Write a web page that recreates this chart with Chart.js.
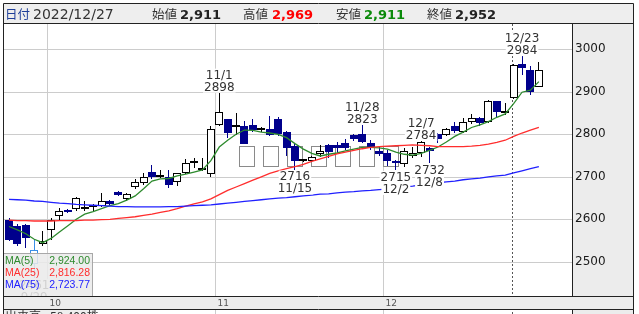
<!DOCTYPE html>
<html lang="ja">
<head>
<meta charset="utf-8">
<title>株価チャート</title>
<script src="https://cdn.jsdelivr.net/npm/chart.js@4.4.1/dist/chart.umd.min.js"></script>
<style>
  html, body { margin: 0; padding: 0; background: #fff; }
  #wrap { position: relative; width: 639px; height: 314px; overflow: hidden; }
  canvas { display: block; }
</style>
</head>
<body>
<div id="wrap"><canvas id="chart" width="639" height="314"></canvas></div>
<script>
// ---------- data ----------
const YEAR = '2022';
const dates = [
  '9/26','9/27','9/28','9/29','9/30',
  '10/3','10/4','10/5','10/6','10/7','10/11','10/12','10/13','10/14','10/17',
  '10/18','10/19','10/20','10/21','10/24','10/25','10/26','10/27','10/28','10/31',
  '11/1','11/2','11/4','11/7','11/8','11/9','11/10','11/11','11/14','11/15',
  '11/16','11/17','11/18','11/21','11/22','11/24','11/25','11/28','11/29','11/30',
  '12/1','12/2','12/5','12/6','12/7','12/8','12/9','12/12','12/13','12/14',
  '12/15','12/16','12/19','12/20','12/21','12/22','12/23','12/26','12/27'
];
const open = [
  2598,2584,2586,2495,2541, 2575,2608,2622,2624,2625,
  2628,2631,2643,2664,2647, 2675,2685,2711,2700,2700,
  2688,2709,2732,2716,2707, 2822,2835,2816,2820,2822,
  2810,2812,2835,2805,2772, 2736,2738,2753,2775,2775,
  2780,2798,2800,2779,2760, 2757,2737,2730,2748,2755,
  2767,2800,2799,2820,2806, 2830,2839,2828,2878,2850,
  2885,2965,2951,2911
];
const high = [
  2602,2590,2590,2553,2573, 2604,2627,2625,2653,2643,
  2636,2661,2646,2667,2663, 2695,2708,2728,2716,2716,
  2710,2741,2744,2744,2820, 2898,2836,2851,2831,2836,
  2818,2843,2840,2808,2777, 2742,2750,2775,2778,2783,
  2788,2800,2823,2787,2771, 2762,2740,2768,2771,2784,
  2770,2802,2815,2830,2838, 2847,2841,2880,2879,2873,
  2965,2984,2961,2969
];
const low = [
  2548,2538,2533,2461,2538, 2551,2598,2614,2620,2620,
  2620,2628,2632,2654,2644, 2671,2680,2694,2697,2673,
  2679,2706,2720,2714,2700, 2820,2791,2798,2776,2806,
  2806,2795,2797,2750,2716, 2734,2735,2747,2744,2755,
  2764,2785,2780,2762,2750, 2725,2715,2722,2744,2747,
  2732,2779,2795,2802,2804, 2825,2820,2826,2840,2845,
  2883,2940,2893,2911
];
const close = [
  2551,2542,2556,2528,2549, 2598,2620,2617,2649,2625,
  2630,2644,2635,2656,2659, 2687,2700,2700,2700,2680,
  2709,2733,2732,2716,2812, 2853,2802,2816,2776,2810,
  2813,2798,2800,2767,2737, 2739,2747,2761,2759,2767,
  2768,2788,2783,2771,2754, 2737,2732,2760,2756,2783,
  2761,2789,2812,2808,2828, 2838,2826,2878,2852,2850,
  2963,2955,2900,2952
];
const ma5 = [
  2583,2575,2566,2553,2545, 2555,2570,2585,2600,2612,
  2618,2625,2632,2637,2645, 2655,2672,2690,2695,2696,
  2702,2706,2711,2716,2738, 2770,2786,2800,2810,2809,
  2805,2803,2800,2792,2778, 2765,2755,2749,2753,2756,
  2761,2765,2769,2769,2768, 2765,2758,2753,2751,2755,
  2762,2770,2782,2795,2805, 2816,2822,2830,2840,2848,
  2872,2899,2904,2924.00
];
const ma25 = [
  2598,2597,2597,2596,2596, 2596,2597,2597,2597,2598,
  2598,2599,2600,2602,2604, 2606,2609,2612,2616,2620,
  2625,2631,2636,2641,2648, 2658,2668,2676,2684,2692,
  2700,2708,2714,2719,2724, 2729,2736,2742,2748,2754,
  2758,2762,2766,2769,2771, 2772,2773,2774,2775,2774,
  2773,2771,2771,2771,2771, 2772,2774,2777,2781,2786,
  2795,2803,2810,2816.28
];
const ma75 = [
  2647,2646,2645,2643,2642, 2640,2638,2637,2635,2634,
  2633,2632,2631,2630,2630, 2629,2629,2629,2629,2630,
  2630,2631,2632,2633,2634, 2636,2638,2640,2642,2644,
  2646,2648,2650,2651,2653, 2655,2657,2659,2660,2662,
  2664,2665,2667,2668,2670, 2671,2673,2676,2678,2681,
  2683,2686,2688,2690,2693, 2695,2697,2700,2702,2704,
  2709,2714,2719,2723.77
];
const yTicks = [2500, 2600, 2700, 2800, 2900, 3000];
const monthLabels = ['10', '11', '12'];
const monthStart = [5, 25, 45];              // first session of each month
const noteIdx  = [3, 25, 34, 42, 46, 49, 50, 61];
const noteKind = ['low','high','low','high','low','high','low','high'];
const markIdx = 3;                           // light blue session
const cursorIdx = 59.75;                     // dotted vertical line
const volumeText = '58,400株';

// ---------- layout / colours ----------
const W = 639, H = 314;
const PLOT = { left: 4, top: 24, right: 572, bottom: 296 };
const X_MIN = -0.595, X_MAX = 66.94;
const Y_MIN = 2419.5, Y_MAX = 3059.5;
const DOWN = '#00008c', MARK = '#3a8ee6';
const GRID = '#cccccc', FRAME = '#222', PANEL = '#ececec';
const C5 = '#2e8b2e', C25 = '#ff2d2d', C75 = '#2020ff';

const last = dates.length - 1;
const idx = dates.map((d, i) => i);
const isUp = idx.map(i => close[i] >= open[i]);
const bodyFill = idx.map(i => (i === markIdx || isUp[i]) ? '#fff' : DOWN);
const bodyEdge = idx.map(i => i === markIdx ? MARK : (isUp[i] ? '#000' : DOWN));
const wickCol  = idx.map(i => i === markIdx ? MARK : (isUp[i] ? '#000' : DOWN));
const pts = arr => idx.map(i => ({ x: i, y: arr[i] }));
const fmt = (v, d = 0) => v.toLocaleString('en-US', { minimumFractionDigits: d, maximumFractionDigits: d });

// ---------- plugins ----------
// snap bar elements to whole pixels so candles stay crisp
const snapPlugin = {
  id: 'snap',
  beforeDatasetsDraw(chart) {
    chart.data.datasets.forEach((ds, di) => {
      if (ds.type === 'line') return;
      const w = ds.barThickness;
      chart.getDatasetMeta(di).data.forEach(el => {
        const left = Math.round(el.x - w / 2);
        el.x = left + w / 2;
        el.width = w;
        const top = Math.round(Math.min(el.y, el.base));
        let bot = Math.round(Math.max(el.y, el.base));
        if (ds.label === 'body' && bot - top < 2) bot = top + 2;
        el.y = top; el.base = bot; el.height = bot - top;
      });
    });
  }
};

const framePlugin = {
  id: 'frame',
  beforeDraw(chart) {
    const { ctx } = chart;
    const xs = chart.scales.x, ys = chart.scales.y;
    ctx.save();
    ctx.fillStyle = '#fff';
    ctx.fillRect(0, 0, W, H);

    // grid
    ctx.strokeStyle = GRID; ctx.lineWidth = 1;
    ctx.beginPath();
    yTicks.forEach(v => {
      const y = Math.round(ys.getPixelForValue(v)) + 0.5;
      ctx.moveTo(PLOT.left, y); ctx.lineTo(PLOT.right, y);
    });
    monthStart.forEach(k => {
      const x = Math.round(xs.getPixelForValue(k - 0.5)) + 0.5;
      ctx.moveTo(x, PLOT.top); ctx.lineTo(x, H);
    });
    ctx.stroke();

    // empty grey boxes sitting in the middle of the plot
    ctx.strokeStyle = '#8a8a8a';
    for (let j = 0; j < 7; j++) ctx.strokeRect(239.5 + 24 * j, 146.5, 15, 20);

    // dotted cursor line
    const cx = Math.round(xs.getPixelForValue(cursorIdx)) + 0.5;
    ctx.strokeStyle = '#555';
    ctx.setLineDash([2, 2]);
    ctx.beginPath(); ctx.moveTo(cx, PLOT.top); ctx.lineTo(cx, H); ctx.stroke();
    ctx.setLineDash([]);
    ctx.restore();
  }
};

const overlayPlugin = {
  id: 'overlay',
  afterDraw(chart) {
    const { ctx } = chart;
    const xs = chart.scales.x, ys = chart.scales.y;
    ctx.save();

    // high / low notes
    ctx.font = '12px "DejaVu Sans"';
    ctx.textAlign = 'center';
    ctx.textBaseline = 'alphabetic';
    const note = (s, x, base) => {
      const w = ctx.measureText(s).width;
      ctx.fillStyle = '#fff';
      ctx.fillRect(x - w / 2 - 1, base - 10, w + 2, 12);
      ctx.fillStyle = '#333';
      ctx.fillText(s, x, base);
    };
    noteIdx.forEach((k, j) => {
      const x = xs.getPixelForValue(k);
      if (noteKind[j] === 'high') {
        const b = ys.getPixelForValue(high[k]) - 2;
        note(dates[k], x, b - 12);
        note(String(high[k]), x, b);
      } else {
        const b = ys.getPixelForValue(low[k]) + 10.5;
        note(String(low[k]), x, b);
        note(dates[k], x, b + 12);
      }
    });

    // MA legend box
    ctx.fillStyle = 'rgba(234,234,234,0.86)';
    ctx.fillRect(4, 253, 88, 43);
    ctx.strokeStyle = '#a8a8a8';
    ctx.strokeRect(3.5, 253.5, 89, 43);
    ctx.font = '10.5px "Liberation Sans"';
    [['MA(5)', ma5, C5, 264], ['MA(25)', ma25, C25, 276], ['MA(75)', ma75, C75, 287.5]].forEach(([lab, arr, col, y]) => {
      ctx.fillStyle = col;
      ctx.textAlign = 'left'; ctx.fillText(lab, 5, y);
      ctx.textAlign = 'right'; ctx.fillText(fmt(arr[last], 2), 90, y);
    });

    // right price panel
    ctx.fillStyle = PANEL;
    ctx.fillRect(PLOT.right, PLOT.top, 633 - PLOT.right, PLOT.bottom - PLOT.top);
    ctx.fillRect(PLOT.right, 310, 633 - PLOT.right, 4);
    ctx.font = '12px "DejaVu Sans"';
    ctx.textAlign = 'left'; ctx.textBaseline = 'middle';
    ctx.fillStyle = '#1a1a1a';
    yTicks.forEach(v => ctx.fillText(String(v), 575, ys.getPixelForValue(v)));

    // bottom month strip
    ctx.fillStyle = PANEL;
    ctx.fillRect(4, PLOT.bottom, 629, 13);
    ctx.font = '9px "DejaVu Sans"';
    ctx.textBaseline = 'alphabetic';
    ctx.fillStyle = '#555';
    monthStart.forEach((k, j) => {
      const x = Math.round(xs.getPixelForValue(k - 0.5)) + 2.5;
      ctx.fillText(monthLabels[j], x, 305.5);
    });

    // header
    ctx.fillStyle = '#eeeeee';
    ctx.fillRect(4, 4, 629, 19);
    const t = (s, x, font, col) => { ctx.font = font; ctx.fillStyle = col; ctx.fillText(s, x, 18.5); };
    const jp = '12.5px "Noto Sans CJK JP"';
    const bold = 'bold 13px "DejaVu Sans"';
    t('日付', 5, jp, '#1f3f99');
    t(YEAR + '/' + dates[last], 33, '14px "DejaVu Sans"', '#333');
    t('始値', 152, jp, '#333'); t(fmt(open[last]), 180, bold, '#222');
    t('高値', 243, jp, '#333'); t(fmt(high[last]), 272, bold, '#ff0000');
    t('安値', 336, jp, '#333'); t(fmt(low[last]), 364, bold, '#0a8a0a');
    t('終値', 427, jp, '#333'); t(fmt(close[last]), 455, bold, '#222');

    // volume row (only its top is visible)
    ctx.fillStyle = '#eeeeee';
    ctx.fillRect(4, 310, 91, 4);
    ctx.font = '12px "Noto Sans CJK JP"';
    ctx.fillStyle = '#333';
    ctx.fillText('出来高', 5, 321);
    ctx.fillText(volumeText, 50, 321);

    // frame lines
    ctx.strokeStyle = FRAME; ctx.lineWidth = 1;
    ctx.beginPath();
    ctx.moveTo(3.5, 3.5); ctx.lineTo(633.5, 3.5);
    ctx.moveTo(3.5, 3.5); ctx.lineTo(3.5, H);
    ctx.moveTo(633.5, 3.5); ctx.lineTo(633.5, H);
    ctx.moveTo(3.5, 23.5); ctx.lineTo(633.5, 23.5);
    ctx.moveTo(3.5, 296.5); ctx.lineTo(633.5, 296.5);
    ctx.moveTo(3.5, 309.5); ctx.lineTo(633.5, 309.5);
    ctx.moveTo(572.5, 23.5); ctx.lineTo(572.5, 296.5);
    ctx.moveTo(572.5, 309.5); ctx.lineTo(572.5, H);
    ctx.stroke();
    ctx.strokeStyle = '#999';
    ctx.beginPath(); ctx.moveTo(95.5, 310); ctx.lineTo(95.5, H); ctx.stroke();
    ctx.restore();
  }
};

// ---------- chart ----------
const lineDs = (label, arr, col) => ({
  type: 'line', label, data: pts(arr), borderColor: col, borderWidth: 1.3,
  pointRadius: 0, tension: 0, fill: false, order: 0
});

new Chart(document.getElementById('chart').getContext('2d'), {
  type: 'bar',
  data: {
    datasets: [
      lineDs('MA(75)', ma75, C75),
      lineDs('MA(25)', ma25, C25),
      lineDs('MA(5)', ma5, C5),
      {
        label: 'body', data: idx.map(i => ({ x: i, y: [open[i], close[i]] })),
        backgroundColor: bodyFill, borderColor: bodyEdge, borderWidth: 1,
        borderSkipped: false, barThickness: 8, minBarLength: 2,
        grouped: false, inflateAmount: 0, order: 1
      },
      {
        label: 'wick', data: idx.map(i => ({ x: i, y: [low[i], high[i]] })),
        backgroundColor: wickCol, borderWidth: 0, barThickness: 1,
        grouped: false, inflateAmount: 0, order: 2
      }
    ]
  },
  options: {
    responsive: false,
    animation: false,
    devicePixelRatio: 1,
    events: [],
    layout: { padding: { left: PLOT.left, top: PLOT.top, right: W - PLOT.right, bottom: H - PLOT.bottom } },
    scales: {
      x: { type: 'linear', min: X_MIN, max: X_MAX, display: false, offset: false },
      y: { type: 'linear', min: Y_MIN, max: Y_MAX, display: false }
    },
    plugins: { legend: { display: false }, tooltip: { enabled: false } }
  },
  plugins: [framePlugin, snapPlugin, overlayPlugin]
});
</script>
</body>
</html>
